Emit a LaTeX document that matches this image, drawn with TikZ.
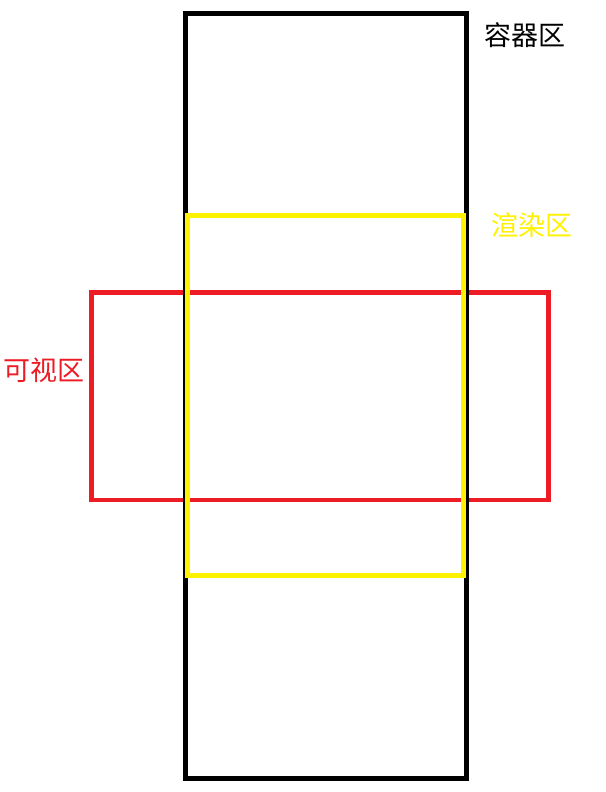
\documentclass[tikz,border=0pt]{standalone}
\usepackage{fontspec}
\newfontfamily\cjk{Noto Sans CJK SC}
\definecolor{pred}{HTML}{ED1C24}
\definecolor{pyellow}{HTML}{FFF200}
\begin{document}
\begin{tikzpicture}[x=1pt,y=-1pt,
  zone/.style={line width=5pt},
  lbl/.style={font=\cjk\fontsize{27}{32}\selectfont, inner sep=0pt}]
\useasboundingbox[fill=white] (0,0) rectangle (605,792);
\draw[zone, pred, line width=4.7pt] (91.7,292.3) rectangle (548.3,500);
\draw[zone, black] (185.5,14) rectangle (466.5,778);
\draw[zone, pyellow] (187.5,215.5) rectangle (463.5,575);
\node[lbl, text=black] (container) at (525,35) {容器区};
\node[lbl, text=pyellow] (render) at (532,225) {渲染区};
\node[lbl, text=pred] (visible) at (44,370) {可视区};
\end{tikzpicture}
\end{document}
